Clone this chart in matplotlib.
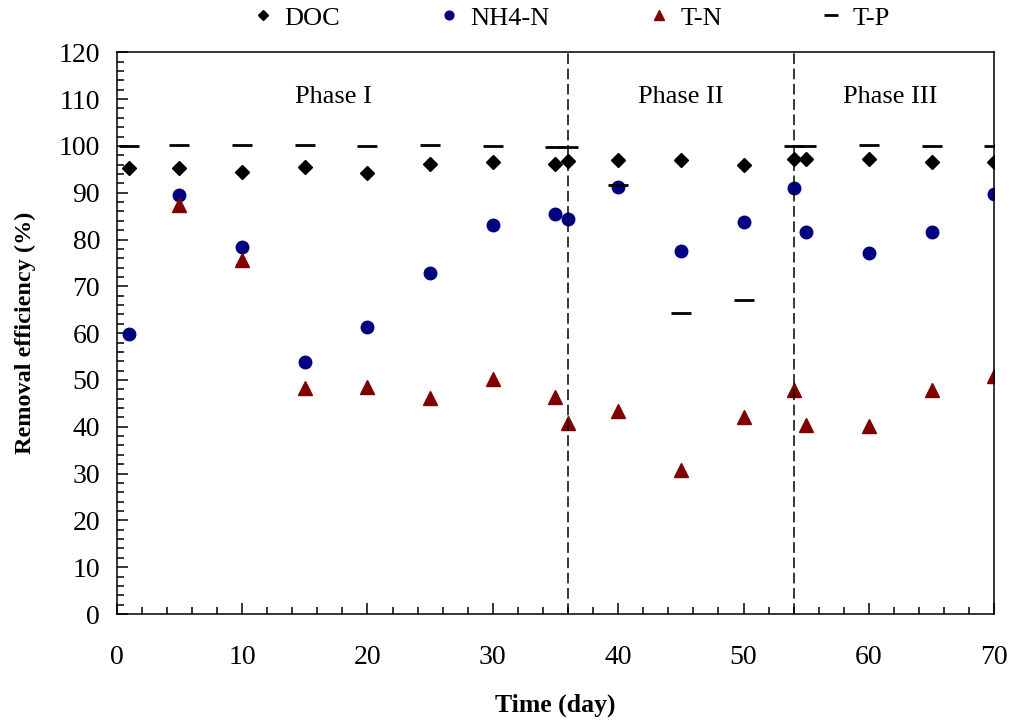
import numpy as np
import matplotlib
matplotlib.use('Agg')
import matplotlib.pyplot as plt
from matplotlib.ticker import MultipleLocator

plt.rcParams['font.family'] = ['Liberation Serif', 'DejaVu Serif']

# sampling days
days = [1, 5, 10, 15, 20, 25, 30, 35, 36, 40, 45, 50, 54, 55, 60, 65, 70]
days_tn = [5, 10, 15, 20, 25, 30, 35, 36, 40, 45, 50, 54, 55, 60, 65, 70]

doc = [95.2, 95.2, 94.5, 95.5, 94.3, 96.2, 96.5, 96.2, 96.8, 96.9, 96.9, 96.0,
       97.1, 97.1, 97.1, 96.6, 96.6]
nh4 = [59.9, 89.5, 78.3, 53.8, 61.4, 72.8, 83.1, 85.5, 84.3, 91.3, 77.6, 83.8,
       90.9, 81.5, 77.1, 81.5, 89.8]
tn = [87.3, 75.6, 48.2, 48.5, 46.1, 50.2, 46.4, 40.7, 43.3, 30.8, 42.1, 47.8,
      40.4, 40.2, 47.8, 50.8]
tp = [100.0, 100.2, 100.2, 100.2, 100.0, 100.2, 100.0, 99.7, 99.7, 91.6, 64.2,
      67.1, 100.0, 100.0, 100.2, 100.0, 100.0]

phase_bounds = [36, 54]
phase_names = ['Phase I', 'Phase II', 'Phase III']
phase_x = [17.3, 45.0, 61.7]

fig = plt.figure(figsize=(10.12, 7.21), dpi=100)
ax = fig.add_axes([0.1153, 0.1484, 0.8672, 0.7791])

ax.plot(days, doc, 'D', color='black', ms=7.5, ls='none', label='DOC')
ax.plot(days, nh4, 'o', color='#000080', ms=9, ls='none', label='NH4-N')
ax.plot(days_tn, tn, '^', color='#800000', ms=9.5, ls='none', label='T-N')
ax.plot(days, tp, '_', color='black', ms=14, mew=2, ls='none', label='T-P')

for b in phase_bounds:
    ax.axvline(b, color='black', lw=1.1, ls=(0, (7, 3)))

for name, px in zip(phase_names, phase_x):
    ax.text(px, 110.5, name, ha='center', va='center', fontsize=19)

ax.set_xlim(0, 70)
ax.set_ylim(0, 120)
ax.xaxis.set_major_locator(MultipleLocator(10))
ax.xaxis.set_minor_locator(MultipleLocator(2))
ax.yaxis.set_major_locator(MultipleLocator(10))
ax.yaxis.set_minor_locator(MultipleLocator(2))
ax.tick_params(which='both', direction='in', labelsize=20, width=1.1)
ax.tick_params(which='major', length=8)
ax.tick_params(which='minor', length=5)
ax.tick_params(axis='x', which='major', pad=22)
ax.tick_params(axis='y', which='major', pad=12)
for sp in ax.spines.values():
    sp.set_linewidth(1.1)

ax.set_xlabel('Time (day)', fontsize=18.5, fontweight='bold', labelpad=17)
ax.set_ylabel('Removal efficiency (%)', fontsize=17.5, fontweight='bold', labelpad=16)

fig.legend(loc='center', bbox_to_anchor=(571 / 1012, 1 - 18 / 721), ncol=4,
           frameon=False, fontsize=19, markerscale=0.7, handlelength=0.8,
           handletextpad=0.4, columnspacing=3.75)

fig.savefig('out.png', dpi=100)
